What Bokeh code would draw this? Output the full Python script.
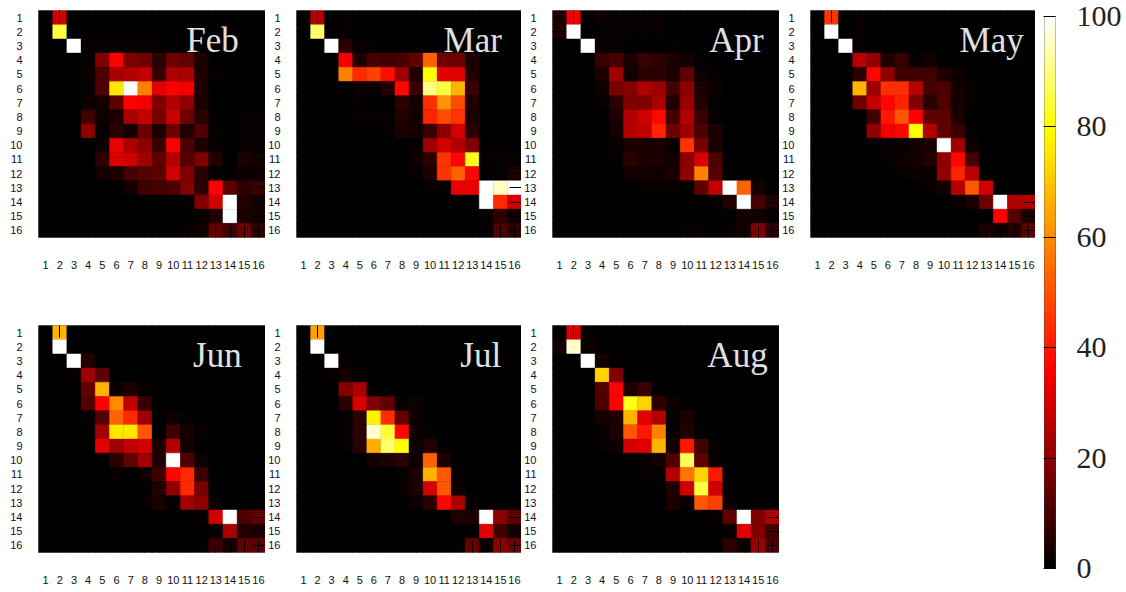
import numpy as np
from bokeh.plotting import figure
from bokeh.layouts import row, column
from bokeh.models import (ColumnDataSource, FixedTicker, Label, LinearAxis,
                          LinearColorMapper, Range1d)
from bokeh.embed import file_html
from bokeh.resources import INLINE

months = ["Feb", "Mar", "Apr", "May", "Jun", "Jul", "Aug"]
tick_values = list(range(1, 17))
colorbar_ticks = [0, 20, 40, 60, 80, 100]

feb = [
 [0,29,0,0,0,0,0,0,0,0,0,0,0,0,0,0],
 [0,85,0,0,0,0,0,0,0,0,0,0,0,0,0,0],
 [0,0,100,1,1,1,1,1,1,0,0,0,0,0,0,0],
 [0,0,0,1,18,36,18,16,6,16,14,4,0,0,0,0],
 [0,0,0,2,11,24,25,28,8,24,24,4,1,0,0,0],
 [0,0,0,1,11,76,100,58,32,36,34,4,0,0,0,0],
 [0,0,0,2,3,13,36,34,18,25,20,4,0,0,0,0],
 [0,0,0,9,2,4,24,28,17,28,16,6,0,0,1,1],
 [0,0,0,20,1,6,3,15,4,15,5,11,1,0,1,1],
 [0,0,0,0,2,33,24,20,8,36,11,4,1,0,1,1],
 [0,0,0,0,7,31,29,23,14,25,12,18,5,0,4,3],
 [0,0,0,0,3,4,10,12,13,29,18,6,1,0,2,2],
 [0,0,0,0,0,0,3,9,10,11,19,6,36,13,6,8],
 [0,0,0,0,0,0,0,0,0,0,1,18,29,100,5,3],
 [0,0,0,0,0,0,0,0,0,0,0,1,5,100,4,3],
 [0,0,0,0,0,0,0,0,0,0,1,2,14,9,15,7],
]
mar = [
 [0,25,0,1,0,0,0,0,0,0,0,0,0,0,0,0],
 [1,88,0,1,0,0,0,0,0,0,0,0,0,0,0,0],
 [0,0,100,6,1,1,0,0,0,0,0,0,0,0,0,0],
 [0,0,0,34,4,10,9,10,14,53,16,15,4,0,0,0],
 [0,0,0,58,43,47,38,22,5,80,32,32,5,0,0,0],
 [0,0,0,0,2,1,5,37,8,90,85,67,8,0,0,0],
 [0,0,0,0,1,0,0,7,3,44,61,49,5,0,0,0],
 [0,0,0,0,1,1,1,5,3,42,49,45,4,0,0,0],
 [0,0,0,0,0,0,1,4,3,8,20,30,7,0,0,0],
 [0,0,0,0,0,0,0,0,1,23,30,25,18,0,0,0],
 [0,0,0,0,0,0,0,0,2,6,45,37,82,1,1,1],
 [0,0,0,0,0,0,0,0,1,4,45,53,37,0,1,4],
 [0,0,0,0,0,0,0,0,0,1,1,33,33,100,95,100],
 [0,0,0,0,0,0,0,0,0,0,0,0,0,100,43,30],
 [0,0,0,0,0,0,0,0,0,0,0,0,0,1,6,2],
 [0,0,0,0,0,0,0,0,0,0,0,0,0,0,11,7],
]
apr = [
 [4,34,0,2,1,1,1,1,0,0,0,0,0,0,0,0],
 [4,100,0,1,1,1,1,1,0,0,0,0,0,0,0,0],
 [0,0,100,1,1,0,0,0,1,0,0,0,0,0,0,0],
 [0,0,0,8,10,4,8,7,4,3,1,0,0,0,0,0],
 [0,0,0,4,23,3,6,6,4,14,2,1,0,0,0,0],
 [0,0,0,2,17,19,25,22,10,20,4,2,0,0,0,0],
 [0,0,0,1,6,18,18,24,5,22,5,1,0,0,0,0],
 [0,0,0,0,4,25,29,37,10,25,8,1,0,0,0,0],
 [0,0,0,0,3,25,27,42,16,22,11,4,0,0,0,0],
 [0,0,0,0,1,4,4,4,1,45,17,4,0,0,0,0],
 [0,0,0,0,1,6,4,4,3,20,31,11,0,0,0,0],
 [0,0,0,0,0,3,3,2,4,21,58,12,0,0,0,0],
 [0,0,0,0,0,0,1,1,1,0,14,28,100,53,3,0],
 [0,0,0,0,0,0,0,0,0,0,0,1,5,100,10,5],
 [0,0,0,0,0,0,0,0,0,0,0,0,0,3,2,1],
 [0,0,0,0,0,0,0,0,0,1,1,0,1,3,18,7],
]
may = [
 [0,45,0,1,0,0,0,0,0,0,0,0,0,0,0,0],
 [0,100,0,1,0,0,0,0,0,0,0,0,0,0,0,0],
 [0,0,100,1,0,0,0,0,0,0,0,0,0,0,0,0],
 [0,0,0,26,21,4,8,1,3,0,0,0,0,0,0,0],
 [0,0,0,6,37,20,9,9,9,4,2,0,0,0,0,0],
 [0,0,0,67,22,44,44,26,10,11,3,1,0,0,0,0],
 [0,0,0,16,28,37,42,18,6,11,3,1,0,0,0,0],
 [0,0,0,0,9,40,51,36,14,13,4,0,0,0,0,0],
 [0,0,0,0,20,34,37,80,25,14,8,1,0,0,0,0],
 [0,0,0,0,0,1,1,3,4,100,23,2,0,0,0,0],
 [0,0,0,0,0,1,2,3,5,20,37,10,0,0,0,0],
 [0,0,0,0,0,0,1,2,1,21,42,26,0,0,0,0],
 [0,0,0,0,0,0,0,0,1,3,25,51,29,0,0,0],
 [0,0,0,0,0,0,0,0,0,0,1,4,15,100,25,25],
 [0,0,0,0,0,0,0,0,0,0,0,0,0,36,12,4],
 [0,0,0,0,0,0,0,0,0,0,0,0,4,2,5,14],
]
jun = [
 [0,67,0,0,0,0,0,0,0,0,0,0,0,0,0,0],
 [0,100,0,0,0,0,0,0,0,0,0,0,0,0,0,0],
 [0,0,100,5,0,0,0,0,0,0,0,0,0,0,0,0],
 [0,0,1,23,13,0,0,0,0,0,0,0,0,0,0,0],
 [0,0,0,14,67,2,4,1,0,0,0,0,0,0,0,0],
 [0,0,0,12,36,60,27,8,0,0,0,0,0,0,0,0],
 [0,0,0,1,12,53,43,22,0,2,1,0,0,0,0,0],
 [0,0,0,1,23,76,76,51,0,9,3,1,0,0,0,0],
 [0,0,0,0,32,22,27,30,4,25,3,0,0,0,0,0],
 [0,0,0,0,0,6,14,23,5,100,11,2,0,0,0,0],
 [0,0,0,0,0,1,0,2,9,37,43,8,0,0,0,0],
 [0,0,0,0,0,0,0,0,5,20,43,17,0,0,0,0],
 [0,0,0,0,0,0,0,1,4,1,23,20,1,0,0,0],
 [0,0,0,0,0,0,0,0,0,0,0,1,30,100,11,14],
 [0,0,0,0,0,0,0,0,0,0,0,0,1,24,5,4],
 [0,0,0,0,0,0,0,0,0,0,0,1,8,3,14,13],
]
jul = [
 [0,64,0,0,0,0,0,0,0,0,0,0,0,0,0,0],
 [0,100,0,0,0,0,0,0,0,0,0,0,0,0,0,0],
 [0,0,100,1,0,0,0,0,0,0,0,0,0,0,0,0],
 [0,0,1,3,0,0,0,0,0,0,0,0,0,0,0,0],
 [0,0,0,18,24,0,0,0,0,0,0,0,0,0,0,0],
 [0,0,0,6,31,18,14,1,2,0,0,0,0,0,0,0],
 [0,0,0,1,6,78,44,14,2,0,0,0,0,0,0,0],
 [0,0,0,1,6,96,84,37,2,1,0,0,0,0,0,0],
 [0,0,0,1,6,66,88,80,2,5,0,0,0,0,0,0],
 [0,0,0,0,0,3,4,6,2,53,4,0,0,0,0,0],
 [0,0,0,0,0,0,0,1,4,67,51,1,0,0,0,0],
 [0,0,0,0,0,0,0,1,4,30,51,2,0,0,0,0],
 [0,0,0,0,0,0,0,0,2,6,37,24,1,0,0,0],
 [0,0,0,0,0,0,0,0,0,0,0,5,4,100,20,13],
 [0,0,0,0,0,0,0,0,0,0,0,0,0,32,9,3],
 [0,0,0,0,0,0,0,0,0,0,0,1,15,2,20,16],
]
aug = [
 [0,31,1,0,0,0,0,0,0,0,0,0,0,0,0,0],
 [3,96,2,0,0,0,0,0,0,0,0,0,0,0,0,0],
 [0,0,100,3,0,0,0,0,0,0,0,0,0,0,0,0],
 [0,0,0,72,18,0,0,0,0,0,0,0,0,0,0,0],
 [0,0,0,12,36,4,8,0,0,0,0,0,0,0,0,0],
 [0,0,0,11,36,82,72,7,2,0,0,0,0,0,0,0],
 [0,0,0,3,5,67,32,25,1,4,0,0,0,0,0,0],
 [0,0,0,1,4,51,40,58,1,5,1,0,0,0,0,0],
 [0,0,0,1,2,30,32,67,3,40,9,1,0,0,0,0],
 [0,0,0,0,0,0,1,3,11,87,13,1,0,0,0,0],
 [0,0,0,0,0,0,1,1,25,56,72,40,0,0,0,0],
 [0,0,0,0,0,0,0,0,5,29,85,30,0,0,0,0],
 [0,0,0,0,0,0,0,0,4,1,51,47,2,0,0,0],
 [0,0,0,0,0,0,0,0,0,0,0,1,14,100,18,25],
 [0,0,0,0,0,0,0,0,0,0,0,0,1,32,18,9],
 [0,0,0,0,0,0,0,0,0,0,0,0,6,2,22,11],
]
matrices = [feb, mar, apr, may, jun, jul, aug]


def hot(v):
    r = min(v / 36, 1)
    g = min(max((v - 36) / 44, 0), 1)
    b = min(max((v - 80) / 20, 0), 1)
    return "#%02x%02x%02x" % (round(r * 255), round(g * 255), round(b * 255))


palette = [hot(v) for v in np.linspace(0, 100, 256)]
mapper = LinearColorMapper(palette=palette, low=0, high=100)
fill = {"field": "v", "transform": mapper}

# layout: (left border, frame width); month label centre in cell units
FRAME_H = 227
ROW_TOPS = [10, 2]
ROW_BOTTOM = [86, 38]
widths = [(38, 227), (30, 226), (31, 227), (30, 226)]
label_x = [12.76, 13.03, 13.47, 13.38, 13.11, 13.6, 13.54]
LABEL_Y = 2.61


def panel(name, m, idx):
    r = 0 if idx < 4 else 1
    left, fw = widths[idx % 4]
    bottom = ROW_BOTTOM[r]
    top = ROW_TOPS[r]
    h = top + FRAME_H + bottom
    p = figure(width=left + fw, height=h, output_backend="svg", toolbar_location=None,
               x_range=Range1d(0.5, 16.5), y_range=Range1d(16.5, 0.5),
               min_border_left=left, min_border_right=0, min_border_top=top,
               min_border_bottom=bottom, x_axis_location=None, y_axis_location=None,
               background_fill_color="black", outline_line_color="#808080",
               outline_line_width=1)
    p.grid.visible = False
    xs, ys, vs = [], [], []
    for i, line in enumerate(m):
        for j, v in enumerate(line):
            xs.append(j + 1); ys.append(i + 1); vs.append(v)
    src = ColumnDataSource(dict(x=xs, y=ys, v=vs))
    p.rect("x", "y", 1, 1, source=src, fill_color=fill, line_color=fill, line_width=0.4)
    ticker = FixedTicker(ticks=tick_values)
    for side in ["left", "below", "right", "above"]:
        labelled = side in ("left", "below")
        ax = LinearAxis(ticker=ticker, axis_line_color=None, major_tick_line_color="black",
                        major_tick_line_width=1, major_tick_in=12, major_tick_out=0,
                        minor_tick_line_color=None)
        if labelled:
            ax.major_label_text_font = "Liberation Sans"
            ax.major_label_text_font_size = "11px"
            ax.major_label_text_color = "#111111"
            ax.major_label_standoff = 16 if side == "left" else 23
        else:
            ax.major_label_overrides = {t: "" for t in tick_values}
            ax.major_label_text_font_size = "1px"
            ax.major_label_standoff = 0
        p.add_layout(ax, side)
    p.add_layout(Label(x=label_x[idx], y=LABEL_Y, text=name, text_font="Liberation Serif",
                       text_font_size="35px", text_color="#e0e0e0", text_align="center",
                       text_baseline="alphabetic"))
    return p


figs = [panel(n, m, i) for i, (n, m) in enumerate(zip(months, matrices))]

levels = np.arange(0, 100.5, 0.5)
cb = figure(width=89, height=590, output_backend="svg", toolbar_location=None,
            x_range=Range1d(0, 1), y_range=Range1d(0, 100),
            min_border_left=9, min_border_right=68, min_border_top=16, min_border_bottom=22,
            x_axis_location=None, y_axis_location=None, background_fill_color="black",
            outline_line_color="#404040", outline_line_width=1)
cb.grid.visible = False
cb.rect("x", "v", 1, 0.5, fill_color=fill, line_color=fill, line_width=1,
        source=ColumnDataSource(dict(x=[0.5] * len(levels), v=levels)))
axr = LinearAxis(ticker=FixedTicker(ticks=colorbar_ticks), axis_line_color=None,
                 major_tick_line_color="black", major_tick_line_width=1,
                 major_tick_in=12, major_tick_out=0, minor_tick_line_color=None,
                 major_label_text_font="Liberation Serif", major_label_text_font_size="30px",
                 major_label_text_color="#222222", major_label_standoff=21)
cb.add_layout(axr, "right")

layout = row(column(row(*figs[:4]), row(*figs[4:])), cb)
open("out.html", "w").write(file_html(layout, INLINE))
